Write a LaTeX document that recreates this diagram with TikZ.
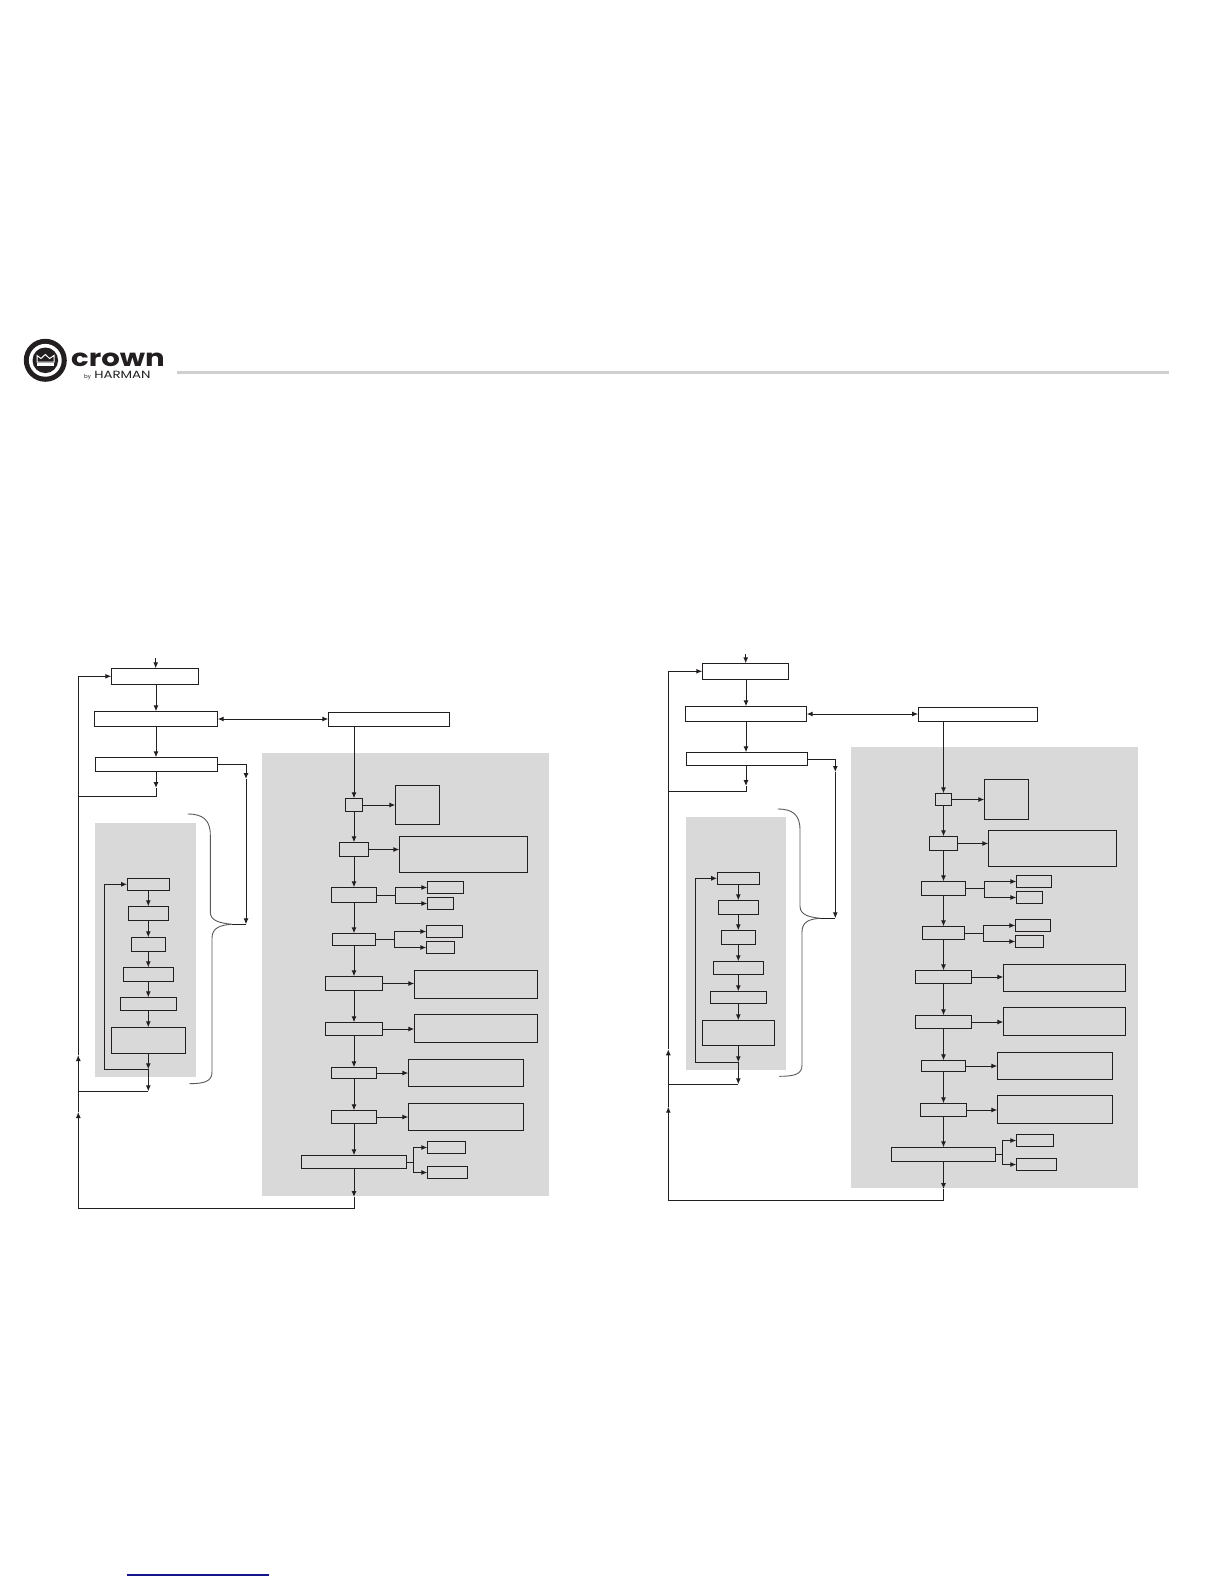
\documentclass[tikz,border=0pt]{standalone}
\usepackage{fontspec}
\newfontfamily\logofont{Poppins}
\usetikzlibrary{arrows.meta,positioning}
\definecolor{panelgrey}{HTML}{D9D9D9}
\definecolor{inkblack}{HTML}{231F20}
\definecolor{rulegrey}{HTML}{CFCFCF}
\definecolor{linkblue}{HTML}{14148C}
\tikzset{
  blockbox/.style={draw=inkblack,line width=1bp,inner sep=0pt,outer sep=0pt},
  wire/.style={draw=inkblack,line width=1bp},
  tipwire/.style={wire,-{Latex[length=6bp,width=5bp]}},
  twotip/.style={wire,{Latex[length=6bp,width=5bp]}-{Latex[length=6bp,width=5bp]}},
  bracecurve/.style={draw=inkblack!75,line width=.9bp},
}
\begin{document}
\begin{tikzpicture}[x=1bp,y=-1bp]
\useasboundingbox (0,0) rectangle (1224,1584);
% header
\fill[inkblack] (45.3,360.3) circle (21.5);
\fill[white] (45.3,360.3) circle (16.4);
\fill[inkblack] (45.3,360.3) circle (12.8);
\draw[white,line width=1bp,line join=miter] (37,362) -- (37,355.5) -- (41,358.5) -- (45.3,354.5) -- (49.6,358.5) -- (54,355.5) -- (54,362) -- cycle;
\fill[white] (37,363.2) rectangle (54,365.6);
\node[inner sep=0pt,anchor=base west,xscale=1.22,text depth=0pt,text height=14bp,font=\logofont\bfseries\fontsize{24}{24}\selectfont,text=inkblack] (logotext) at (71,366) {crown};
\node[inner sep=0pt,anchor=base west,text depth=0pt,text height=4bp,font=\logofont\fontsize{5.5}{6}\selectfont,text=inkblack] (logoby) at (84,378) {by};
\node[inner sep=0pt,anchor=base west,xscale=1.28,text depth=0pt,text height=7bp,font=\logofont\fontsize{10.5}{11}\selectfont,text=inkblack] (logoname) at (94,378) {HARMAN};
\fill[rulegrey] (177,371) rectangle (1168.5,373.6);
\draw[linkblue,line width=1.3bp] (127,1575) -- (269,1575);
% left panels
\fill[panelgrey] (95.3,823) rectangle (196,1076.7);
\fill[panelgrey] (262,753) rectangle (548.7,1196);
% left blocks
\node[blockbox,minimum width=87.4bp,minimum height=16bp] (la1) at (155,676.3) {};
\node[blockbox,minimum width=123.4bp,minimum height=15.4bp] (la2) at (156,719) {};
\node[blockbox,minimum width=122.4bp,minimum height=14bp] (la3) at (156.5,764.3) {};
\node[blockbox,minimum width=121.4bp,minimum height=14bp] (lc0) at (389,719.3) {};
\node[blockbox,minimum width=42.4bp,minimum height=12bp] (lb1) at (148.3,884.3) {};
\node[blockbox,minimum width=39.4bp,minimum height=14.4bp] (lb2) at (148.3,913.5) {};
\node[blockbox,minimum width=34.4bp,minimum height=14.4bp] (lb3) at (148.3,944.5) {};
\node[blockbox,minimum width=50.4bp,minimum height=14.4bp] (lb4) at (148.3,974.5) {};
\node[blockbox,minimum width=55.4bp,minimum height=13.4bp] (lb5) at (148.3,1004) {};
\node[blockbox,minimum width=73.4bp,minimum height=26.4bp] (lb6) at (148.3,1040.5) {};
\node[blockbox,minimum width=16.4bp,minimum height=13.4bp] (lc1) at (354,805) {};
\node[blockbox,minimum width=28.4bp,minimum height=14.4bp] (lc2) at (354,849.5) {};
\node[blockbox,minimum width=44.4bp,minimum height=15.4bp] (lc3) at (354,895) {};
\node[blockbox,minimum width=43.4bp,minimum height=12.4bp] (lc4) at (354,939.5) {};
\node[blockbox,minimum width=56.4bp,minimum height=14.4bp] (lc5) at (354,983.5) {};
\node[blockbox,minimum width=57.4bp,minimum height=13.4bp] (lc6) at (354,1029) {};
\node[blockbox,minimum width=45.4bp,minimum height=11.4bp] (lc7) at (354,1073) {};
\node[blockbox,minimum width=45.4bp,minimum height=13.4bp] (lc8) at (354,1117) {};
\node[blockbox,minimum width=105.4bp,minimum height=13.4bp] (lc9) at (354,1162) {};
\node[blockbox,minimum width=44.4bp,minimum height=39.4bp] (ld1) at (417.5,805) {};
\node[blockbox,minimum width=128.4bp,minimum height=36.4bp] (ld2) at (463.5,854.5) {};
\node[blockbox,minimum width=123.4bp,minimum height=28.4bp] (ld3) at (476,984.5) {};
\node[blockbox,minimum width=123.4bp,minimum height=28.4bp] (ld4) at (476,1028.5) {};
\node[blockbox,minimum width=115.4bp,minimum height=27.4bp] (ld5) at (466,1073) {};
\node[blockbox,minimum width=115.4bp,minimum height=27.4bp] (ld6) at (466,1117) {};
\node[blockbox,minimum width=36.4bp,minimum height=12.4bp] (le1) at (445.5,887.5) {};
\node[blockbox,minimum width=26.4bp,minimum height=12.4bp] (le2) at (440.5,903.5) {};
\node[blockbox,minimum width=36.4bp,minimum height=12.4bp] (le3) at (444.5,931.5) {};
\node[blockbox,minimum width=28.4bp,minimum height=12.4bp] (le4) at (440.5,947.5) {};
\node[blockbox,minimum width=38.4bp,minimum height=12.4bp] (le5) at (446.5,1147.5) {};
\node[blockbox,minimum width=40.4bp,minimum height=12.4bp] (le6) at (447.5,1172.5) {};
% left coordinates
\coordinate (lin) at (155.7,658);
\coordinate (ldn1) at (156,788);
\coordinate (ldn2) at (156,796.3);
\coordinate (lup0) at (78.3,796.3);
\coordinate (lup1) at (78.3,1055);
\coordinate (lup2) at (78.3,1112);
\coordinate (lup3) at (78.3,1091.3);
\coordinate (lcnr) at (78.3,1208.3);
\coordinate (lout1) at (354,1197);
\coordinate (lout2) at (354,1208.3);
\coordinate (lbr1) at (246,779);
\coordinate (lbr2) at (246,924.3);
\coordinate (lbrt) at (231.7,924.3);
\coordinate (lk1) at (148.3,1069.3);
\coordinate (lk2) at (104.7,1069.3);
\coordinate (lk3) at (148.3,1091.3);
\coordinate (lf3) at (395.3,895);
\coordinate (lf4) at (394.7,939.5);
\coordinate (lf9) at (413.3,1162);
% left wires
\draw[tipwire] (lin) -- (lin |- la1.north);
\draw[tipwire] (la2 |- la1.south) -- (la2.north);
\draw[tipwire] (la2.south) -- (la2 |- la3.north);
\draw[tipwire] (la2 |- la3.south) -- (ldn1);
\draw[wire] (ldn1) -- (ldn2) -- (lup0);
\draw[twotip] (la2.east) -- (la2.east -| lc0.west);
\draw[tipwire] (lc1 |- lc0.south) -- (lc1.north);
\draw[tipwire] (la3.east) -| (lbr1);
\draw[tipwire] (lbr1) -- (lbr2);
\draw[wire] (lbr2) -- (lbrt);
\draw[tipwire] (lb1.south) -- (lb2.north);
\draw[tipwire] (lb2.south) -- (lb3.north);
\draw[tipwire] (lb3.south) -- (lb4.north);
\draw[tipwire] (lb4.south) -- (lb5.north);
\draw[tipwire] (lb5.south) -- (lb6.north);
\draw[tipwire] (lb6.south) -- (lk1);
\draw[tipwire] (lk1) -- (lk2) |- (lb1.west);
\draw[tipwire] (lk1) -- (lk3);
\draw[wire] (lk3) -- (lup3);
\draw[tipwire] (lc1.south) -- (lc2.north);
\draw[tipwire] (lc2.south) -- (lc3.north);
\draw[tipwire] (lc3.south) -- (lc4.north);
\draw[tipwire] (lc4.south) -- (lc5.north);
\draw[tipwire] (lc5.south) -- (lc6.north);
\draw[tipwire] (lc6.south) -- (lc7.north);
\draw[tipwire] (lc7.south) -- (lc8.north);
\draw[tipwire] (lc8.south) -- (lc9.north);
\draw[tipwire] (lc1.east) -- (lc1 -| ld1.west);
\draw[tipwire] (lc2.east) -- (lc2 -| ld2.west);
\draw[tipwire] (lc5.east) -- (lc5 -| ld3.west);
\draw[tipwire] (lc6.east) -- (lc6 -| ld4.west);
\draw[tipwire] (lc7.east) -- (lc7 -| ld5.west);
\draw[tipwire] (lc8.east) -- (lc8 -| ld6.west);
\draw[wire] (lc3.east) -- (lf3);
\draw[tipwire] (lf3) |- (le1.west);
\draw[tipwire] (lf3) |- (le2.west);
\draw[wire] (lc4.east) -- (lf4);
\draw[tipwire] (lf4) |- (le3.west);
\draw[tipwire] (lf4) |- (le4.west);
\draw[wire] (lc9.east) -- (lf9);
\draw[tipwire] (lf9) |- (le5.west);
\draw[tipwire] (lf9) |- (le6.west);
\draw[tipwire] (lc9.south) -- (lout1);
\draw[tipwire] (lout1) -- (lout2) -- (lcnr) -- (lup2);
\draw[tipwire] (lup2) -- (lup1);
\draw[tipwire] (lup1) |- (la1.west);
\draw[bracecurve] (187.7,814) .. controls (203,814) and (210.3,820) .. (210.3,835) -- (210.3,912) .. controls (210.3,921) and (220,923) .. (lbrt);
\draw[bracecurve] (lbrt) .. controls (220,925) and (212,928) .. (212,938) -- (212,1072) .. controls (212,1081) and (205,1083.7) .. (189.3,1083.7);
% right panels
\fill[panelgrey] (686,817) rectangle (786,1069.7);
\fill[panelgrey] (851,747.3) rectangle (1138,1188);
% right blocks
\node[blockbox,minimum width=86.4bp,minimum height=16bp] (ra1) at (745.5,671.3) {};
\node[blockbox,minimum width=121.4bp,minimum height=15.4bp] (ra2) at (746,714) {};
\node[blockbox,minimum width=121.4bp,minimum height=13.4bp] (ra3) at (747,759) {};
\node[blockbox,minimum width=119.7bp,minimum height=14bp] (rc0) at (978,714.3) {};
\node[blockbox,minimum width=42.4bp,minimum height=12bp] (rb1) at (738.3,878.3) {};
\node[blockbox,minimum width=39.4bp,minimum height=14.4bp] (rb2) at (738.3,907.5) {};
\node[blockbox,minimum width=34.4bp,minimum height=14.4bp] (rb3) at (738.3,937.5) {};
\node[blockbox,minimum width=50.4bp,minimum height=13.4bp] (rb4) at (738.3,968) {};
\node[blockbox,minimum width=55.4bp,minimum height=12.4bp] (rb5) at (738.3,997.5) {};
\node[blockbox,minimum width=72.4bp,minimum height=25.4bp] (rb6) at (738.3,1033) {};
\node[blockbox,minimum width=16.4bp,minimum height=12.4bp] (rc1) at (943.5,799.5) {};
\node[blockbox,minimum width=28.4bp,minimum height=14.4bp] (rc2) at (943.5,843.5) {};
\node[blockbox,minimum width=43.4bp,minimum height=14.4bp] (rc3) at (943.5,888.5) {};
\node[blockbox,minimum width=42.4bp,minimum height=13.4bp] (rc4) at (943.5,933) {};
\node[blockbox,minimum width=56.4bp,minimum height=13.4bp] (rc5) at (943.5,977) {};
\node[blockbox,minimum width=56.4bp,minimum height=13.4bp] (rc6) at (943.5,1022) {};
\node[blockbox,minimum width=44.4bp,minimum height=11.4bp] (rc7) at (943.5,1066) {};
\node[blockbox,minimum width=45.4bp,minimum height=13.4bp] (rc8) at (943.5,1110) {};
\node[blockbox,minimum width=104.4bp,minimum height=14.4bp] (rc9) at (943.5,1154.5) {};
\node[blockbox,minimum width=44.4bp,minimum height=40.4bp] (rd1) at (1006.5,799.5) {};
\node[blockbox,minimum width=128.4bp,minimum height=36.4bp] (rd2) at (1052.5,848.5) {};
\node[blockbox,minimum width=122.4bp,minimum height=27.4bp] (rd3) at (1064.5,978) {};
\node[blockbox,minimum width=122.4bp,minimum height=28bp] (rd4) at (1064.5,1021.3) {};
\node[blockbox,minimum width=115.4bp,minimum height=27bp] (rd5) at (1055,1065.8) {};
\node[blockbox,minimum width=115.4bp,minimum height=28bp] (rd6) at (1055,1109.3) {};
\node[blockbox,minimum width=35.4bp,minimum height=12.4bp] (re1) at (1034,881.5) {};
\node[blockbox,minimum width=26.4bp,minimum height=12.4bp] (re2) at (1029.5,897.5) {};
\node[blockbox,minimum width=35.4bp,minimum height=12.4bp] (re3) at (1033,925.5) {};
\node[blockbox,minimum width=28.4bp,minimum height=12.4bp] (re4) at (1029.5,941.5) {};
\node[blockbox,minimum width=37.4bp,minimum height=12.4bp] (re5) at (1035,1140.5) {};
\node[blockbox,minimum width=40.4bp,minimum height=12.4bp] (re6) at (1036.5,1164.5) {};
% right coordinates
\coordinate (rin) at (745.7,654);
\coordinate (rdn1) at (746,786);
\coordinate (rdn2) at (746,791.3);
\coordinate (rup0) at (668.3,791.3);
\coordinate (rup1) at (668.3,1049.3);
\coordinate (rup2) at (668.3,1106.7);
\coordinate (rup3) at (668.3,1084.3);
\coordinate (rcnr) at (668.3,1200.3);
\coordinate (rout1) at (943.5,1189);
\coordinate (rout2) at (943.5,1200.3);
\coordinate (rbr1) at (835.3,772);
\coordinate (rbr2) at (835.3,918.3);
\coordinate (rbrt) at (820,918.3);
\coordinate (rk1) at (738.3,1062.3);
\coordinate (rk2) at (695.3,1062.3);
\coordinate (rk3) at (738.3,1084.3);
\coordinate (rf3) at (984.3,888.5);
\coordinate (rf4) at (983.3,933);
\coordinate (rf9) at (1002.3,1154.5);
% right wires
\draw[tipwire] (rin) -- (rin |- ra1.north);
\draw[tipwire] (ra2 |- ra1.south) -- (ra2.north);
\draw[tipwire] (ra2.south) -- (ra2 |- ra3.north);
\draw[tipwire] (ra2 |- ra3.south) -- (rdn1);
\draw[wire] (rdn1) -- (rdn2) -- (rup0);
\draw[twotip] (ra2.east) -- (ra2.east -| rc0.west);
\draw[tipwire] (rc1 |- rc0.south) -- (rc1.north);
\draw[tipwire] (ra3.east) -| (rbr1);
\draw[tipwire] (rbr1) -- (rbr2);
\draw[wire] (rbr2) -- (rbrt);
\draw[tipwire] (rb1.south) -- (rb2.north);
\draw[tipwire] (rb2.south) -- (rb3.north);
\draw[tipwire] (rb3.south) -- (rb4.north);
\draw[tipwire] (rb4.south) -- (rb5.north);
\draw[tipwire] (rb5.south) -- (rb6.north);
\draw[tipwire] (rb6.south) -- (rk1);
\draw[tipwire] (rk1) -- (rk2) |- (rb1.west);
\draw[tipwire] (rk1) -- (rk3);
\draw[wire] (rk3) -- (rup3);
\draw[tipwire] (rc1.south) -- (rc2.north);
\draw[tipwire] (rc2.south) -- (rc3.north);
\draw[tipwire] (rc3.south) -- (rc4.north);
\draw[tipwire] (rc4.south) -- (rc5.north);
\draw[tipwire] (rc5.south) -- (rc6.north);
\draw[tipwire] (rc6.south) -- (rc7.north);
\draw[tipwire] (rc7.south) -- (rc8.north);
\draw[tipwire] (rc8.south) -- (rc9.north);
\draw[tipwire] (rc1.east) -- (rc1 -| rd1.west);
\draw[tipwire] (rc2.east) -- (rc2 -| rd2.west);
\draw[tipwire] (rc5.east) -- (rc5 -| rd3.west);
\draw[tipwire] (rc6.east) -- (rc6 -| rd4.west);
\draw[tipwire] (rc7.east) -- (rc7 -| rd5.west);
\draw[tipwire] (rc8.east) -- (rc8 -| rd6.west);
\draw[wire] (rc3.east) -- (rf3);
\draw[tipwire] (rf3) |- (re1.west);
\draw[tipwire] (rf3) |- (re2.west);
\draw[wire] (rc4.east) -- (rf4);
\draw[tipwire] (rf4) |- (re3.west);
\draw[tipwire] (rf4) |- (re4.west);
\draw[wire] (rc9.east) -- (rf9);
\draw[tipwire] (rf9) |- (re5.west);
\draw[tipwire] (rf9) |- (re6.west);
\draw[tipwire] (rc9.south) -- (rout1);
\draw[tipwire] (rout1) -- (rout2) -- (rcnr) -- (rup2);
\draw[tipwire] (rup2) -- (rup1);
\draw[tipwire] (rup1) |- (ra1.west);
\draw[bracecurve] (777.7,809) .. controls (793,809) and (800,815) .. (800,830) -- (800,906) .. controls (800,915) and (809,917) .. (rbrt);
\draw[bracecurve] (rbrt) .. controls (809,919) and (802,922) .. (802,932) -- (802,1065) .. controls (802,1074) and (795,1076.3) .. (779.3,1076.3);
\end{tikzpicture}
\end{document}
